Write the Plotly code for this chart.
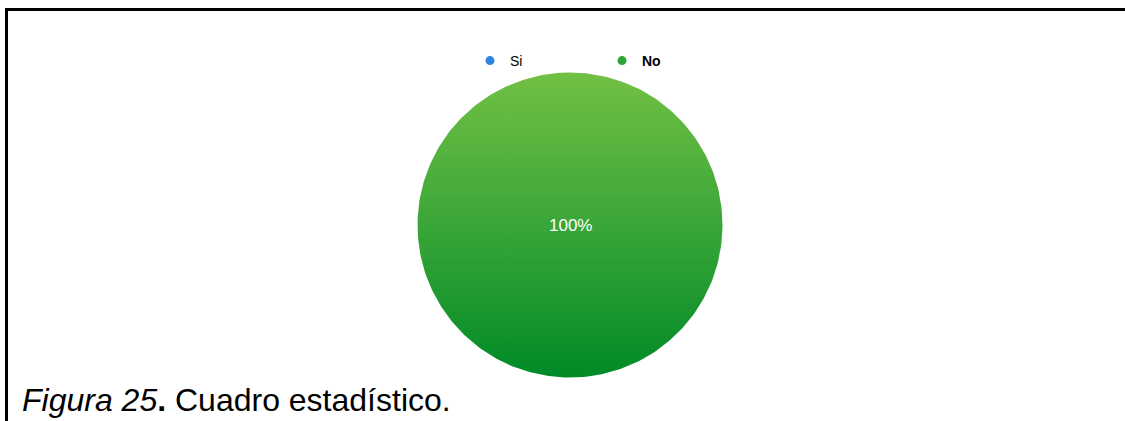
import numpy as np
import plotly.graph_objects as go

# Survey answers
labels = ["Si", "No"]
values = [0, 100]
legend_colors = ["#2a86e2", "#2ea43a"]
caption = "<i>Figura 25</i><b>.</b> Cuadro estadístico."

W, H = 1125, 421
CX, CY, R = 570, H - 225, 152.5

fig = go.Figure()

total = sum(values)
start = 90.0  # first slice starts at 12 o'clock, clockwise
for lab, val in zip(labels, values):
    if val <= 0:
        continue
    share = val / total
    sweep = 360.0 * share
    ang = np.radians(np.linspace(start, start - sweep, 361))
    xs = CX + R * np.cos(ang)
    ys = CY + R * np.sin(ang)
    if share < 1:
        xs = np.concatenate([[CX], xs, [CX]])
        ys = np.concatenate([[CY], ys, [CY]])
    fig.add_trace(go.Scatter(
        x=xs, y=ys, mode="lines", fill="toself", line=dict(width=0),
        fillgradient=dict(type="vertical",
                          colorscale=[[0, "#008a27"], [0.5, "#3aa638"], [1, "#72c044"]]),
        showlegend=False, hoverinfo="skip"))
    mid = np.radians(start - sweep / 2)
    tx = CX if share == 1 else CX + 0.6 * R * np.cos(mid)
    ty = CY if share == 1 else CY + 0.6 * R * np.sin(mid)
    fig.add_annotation(x=tx, y=ty, text=f"{share*100:.0f}%", showarrow=False,
                       font=dict(family="Liberation Sans, Arial", size=17, color="white"))
    start -= sweep

# legend entries
for lab, col in zip(labels, legend_colors):
    fig.add_trace(go.Scatter(x=[None], y=[None], mode="markers", name=f"<b>{lab}</b>" if lab == "No" else lab,
                             marker=dict(symbol="circle", size=9, color=col)))

# frame lines
fig.add_shape(type="line", xref="paper", yref="paper", x0=6 / W, x1=1, y0=1 - 9.5 / H, y1=1 - 9.5 / H,
              line=dict(color="black", width=3))
fig.add_shape(type="line", xref="paper", yref="paper", x0=6.5 / W, x1=6.5 / W, y0=0, y1=1 - 8 / H,
              line=dict(color="black", width=3))

fig.add_annotation(xref="paper", yref="paper", x=20 / W, y=1 - 400 / H, xanchor="left", yanchor="middle",
                   text=caption, showarrow=False,
                   font=dict(family="Liberation Sans, Arial", size=32, color="black"))

fig.update_layout(
    width=W, height=H, margin=dict(l=0, r=0, t=0, b=0),
    paper_bgcolor="white", plot_bgcolor="white",
    xaxis=dict(range=[0, W], visible=False, fixedrange=True),
    yaxis=dict(range=[0, H], visible=False, fixedrange=True),
    legend=dict(orientation="h", x=470 / W, y=1 - 61 / H, xanchor="left", yanchor="middle",
                entrywidth=92, entrywidthmode="pixels", itemwidth=30,
                font=dict(family="Liberation Sans, Arial", size=14, color="black"),
                bgcolor="rgba(0,0,0,0)"),
    showlegend=True,
)
fig.update_layout(legend_entrywidth=87)

fig.write_html("out.html")
